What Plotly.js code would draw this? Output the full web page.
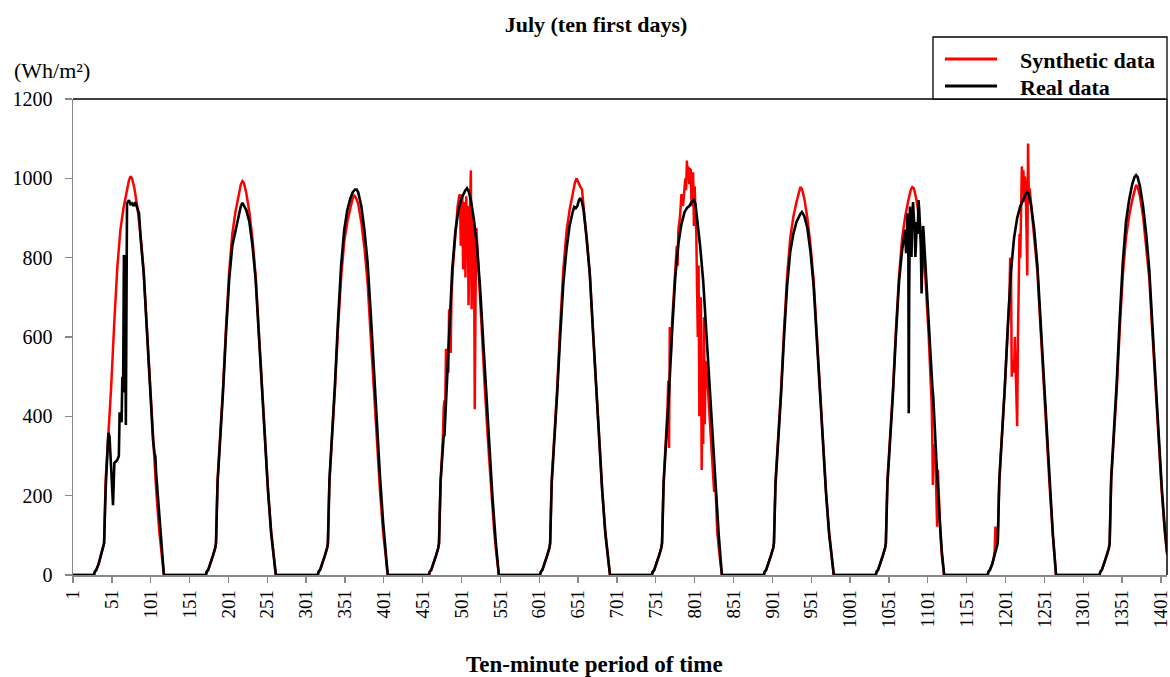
<!DOCTYPE html>
<html><head><meta charset="utf-8">
<script src="https://cdn.plot.ly/plotly-3.0.1.min.js"></script>
<style>html,body{margin:0;padding:0;background:#fff}#chart{width:1170px;height:677px}</style>
</head><body><div id="chart"></div>
<script>
// [ten-minute period, Wh/m2], day by day
const syn1 = [[1,0],[28,0],[29,8],[31,13],[34,28],[37,48],[40,68],[41,80],[43,240],[46,330],[50,470],[54,632],[58,775],[62,870],[66,925],[70,965],[73,995],[75,1005],[77,1000],[80,975],[84,925],[88,855],[92,765],[96,625],[100,478],[104,342],[108,216],[112,110],[115,50],[118,0]];
const real1 = [[1,0],[28,0],[29,8],[31,13],[34,28],[37,48],[40,68],[41,80],[43,215],[45,300],[46.5,358],[48,350],[50.3,252],[52.5,176],[54.2,282],[56,285],[58,290],[60,300],[61,410],[62,400],[63.5,385],[64.5,500],[65.5,460],[66.5,807],[68,790],[69,378],[70.5,937],[73,945],[75,935],[77,937],[79,930],[81,940],[84,925],[86,912],[88,850],[92,760],[96,620],[100,475],[104,340],[106,305],[107,300],[108,256],[113,130],[118,0]];

const syn2 = [[172,0],[173,8],[175,13],[178,28],[181,48],[184,68],[185,80],[187,240],[190,330],[194,470],[198,628],[202,765],[206,860],[210,915],[214,955],[217,985],[219,993],[221,988],[224,963],[228,915],[232,845],[236,755],[240,618],[244,473],[248,338],[252,214],[256,110],[259,50],[262,0]];
const real2 = [[172,0],[173,8],[175,13],[178,28],[181,48],[184,68],[185,80],[187,230],[190,320],[194,460],[198,612],[202,745],[206,830],[210,865],[214,905],[217,930],[219,938],[221,930],[224,920],[228,890],[232,830],[236,745],[240,610],[244,470],[248,335],[252,210],[256,105],[259,45],[262,0]];

const syn3 = [[316,0],[317,8],[319,13],[322,28],[325,48],[328,68],[329,80],[331,235],[334,325],[338,465],[342,620],[346,750],[350,840],[354,890],[358,925],[361,950],[363,956],[365,952],[368,935],[372,890],[376,825],[380,740],[384,605],[388,465],[390,395],[391,360],[392,340],[396,214],[400,110],[403,50],[406,0]];
const real3 = [[316,0],[317,8],[319,13],[322,28],[325,48],[328,68],[329,80],[331,240],[334,335],[338,478],[342,640],[346,780],[350,870],[354,920],[358,950],[361,965],[364,972],[366,972],[368,965],[372,930],[376,870],[380,790],[384,665],[388,520],[392,380],[396,250],[400,135],[403,65],[406,0]];

const syn4 = [[459,0],[460,8],[462,13],[465,28],[468,48],[471,68],[472,80],[474,235],[476,300],[477,345],[478,420],[479,440],[480,430],[481,570],[482,565],[483,520],[484,510],[485,670],[486,640],[487,560],[488,700],[490,780],[493,865],[496,930],[498,955],[499,960],[500,830],[501,920],[502,960],[503,770],[504,880],[505,940],[506,750],[507,955],[508,870],[509,930],[510,680],[511,900],[512,930],[513,1020],[514,670],[515,920],[516,860],[517,870],[518,418],[519,700],[520,875],[521,840],[523,760],[527,615],[531,470],[535,338],[539,214],[543,110],[546,50],[549,0]];
const real4 = [[459,0],[460,8],[462,13],[465,28],[468,48],[471,68],[472,80],[474,235],[476,300],[477,345],[478,350],[479,352],[481,440],[485,620],[489,770],[493,865],[497,920],[501,950],[504,965],[506,970],[508,975],[510,968],[513,945],[517,895],[521,825],[525,720],[529,585],[533,445],[537,315],[541,190],[545,85],[547,40],[549,0]];

const syn5 = [[602,0],[603,8],[605,13],[608,28],[611,48],[614,68],[615,80],[617,240],[620,330],[624,470],[628,630],[632,770],[636,865],[640,920],[644,960],[647,990],[649,1000],[651,990],[654,978],[656,972],[658,930],[662,852],[666,760],[670,620],[674,475],[678,340],[682,215],[686,110],[689,50],[692,0]];
const real5 = [[602,0],[603,8],[605,13],[608,28],[611,48],[614,68],[615,80],[617,230],[620,318],[624,455],[628,605],[632,735],[636,820],[640,880],[644,915],[646,928],[648,925],[650,930],[652,945],[654,950],[656,940],[658,920],[662,850],[666,760],[670,620],[674,475],[678,340],[682,212],[686,105],[689,45],[692,0]];

const syn6 = [[746,0],[747,8],[749,13],[752,28],[755,48],[758,68],[759,80],[761,235],[764,330],[766,420],[767,490],[768,320],[769,625],[770,540],[772,640],[776,775],[778,830],[779,780],[780,870],[782,900],[784,960],[786,930],[788,975],[789,1000],[790,970],[791,1045],[792,1000],[793,1030],[794,985],[795,1025],[796,1020],[797,930],[798,960],[799,1015],[800,880],[801,980],[802,920],[803,870],[805,600],[806,780],[807,400],[808,520],[809,700],[810,265],[811,420],[812,330],[813,650],[814,380],[815,540],[818,470],[822,340],[826,210],[828,215],[830,110],[833,50],[836,0]];
const real6 = [[746,0],[747,8],[749,13],[752,28],[755,48],[758,68],[759,80],[761,230],[764,320],[768,460],[772,615],[776,750],[780,835],[784,885],[788,915],[791,925],[794,930],[797,940],[800,945],[802,935],[804,900],[808,830],[812,740],[816,610],[820,470],[824,335],[828,210],[832,100],[834,50],[836,0]];

const syn7 = [[890,0],[891,8],[893,13],[896,28],[899,48],[902,68],[903,80],[905,238],[908,325],[912,462],[916,618],[920,755],[924,850],[928,903],[932,940],[935,968],[937,978],[939,973],[942,950],[946,900],[950,832],[954,745],[958,608],[962,465],[966,333],[970,210],[974,108],[977,48],[980,0]];
const real7 = [[890,0],[891,8],[893,13],[896,28],[899,48],[902,68],[903,80],[905,228],[908,315],[912,450],[916,600],[920,730],[924,815],[928,860],[932,890],[935,905],[937,910],[939,915],[942,905],[946,875],[950,815],[954,730],[958,598],[962,462],[966,330],[970,207],[974,103],[977,44],[980,0]];

const syn8 = [[1034,0],[1035,8],[1037,13],[1040,28],[1043,48],[1046,68],[1047,80],[1049,238],[1052,325],[1056,462],[1060,618],[1064,755],[1068,850],[1072,905],[1076,945],[1079,970],[1081,978],[1083,975],[1086,950],[1090,900],[1094,832],[1098,745],[1102,608],[1105,480],[1106,430],[1107,315],[1107.5,227],[1108,330],[1109,300],[1110,315],[1111,280],[1112,200],[1113,122],[1114,265],[1115,200],[1117,110],[1119,50],[1122,0]];
const real8 = [[1034,0],[1035,8],[1037,13],[1040,28],[1043,48],[1046,68],[1047,80],[1049,228],[1052,315],[1056,452],[1060,605],[1064,740],[1068,820],[1070,850],[1072,870],[1073,811],[1074,860],[1075,912],[1076,800],[1076.5,408],[1077,700],[1078,929],[1079,880],[1080,802],[1081,900],[1082,940],[1083,900],[1084,880],[1085,802],[1086,850],[1087,890],[1088,860],[1089,945],[1090,920],[1091,870],[1092,830],[1093,710],[1094,820],[1095,880],[1096,850],[1100,700],[1104,560],[1107,470],[1108,450],[1109,400],[1112,290],[1116,150],[1119,60],[1122,0]];

const syn9 = [[1178,0],[1179,8],[1181,13],[1184,28],[1186,45],[1187,60],[1188,122],[1189,75],[1190,80],[1191,85],[1193,240],[1196,330],[1200,470],[1204,620],[1206,700],[1207,800],[1208,790],[1209,500],[1210,540],[1211,530],[1212,510],[1213,600],[1214,520],[1215,470],[1216,375],[1217,600],[1218,770],[1219,860],[1220,800],[1221,960],[1222,1030],[1223,990],[1224,1020],[1225,940],[1226,1005],[1227,980],[1228,860],[1229,755],[1230,1088],[1231,950],[1232,975],[1234,930],[1238,860],[1242,765],[1246,625],[1250,478],[1254,342],[1258,216],[1262,100],[1264,50],[1266,0]];
const real9 = [[1178,0],[1179,8],[1181,13],[1184,28],[1187,48],[1190,68],[1191,80],[1193,238],[1196,330],[1200,470],[1204,630],[1208,765],[1212,850],[1216,900],[1220,930],[1223,945],[1225,952],[1227,960],[1229,966],[1231,960],[1234,930],[1238,870],[1242,780],[1246,640],[1250,490],[1254,350],[1258,220],[1262,100],[1264,50],[1266,0]];

const syn10 = [[1322,0],[1323,8],[1325,13],[1328,28],[1331,48],[1334,68],[1335,80],[1337,238],[1340,325],[1344,462],[1348,620],[1352,757],[1356,850],[1360,905],[1364,945],[1367,973],[1369,983],[1371,978],[1374,955],[1378,905],[1382,835],[1386,748],[1390,610],[1394,467],[1398,334],[1402,211],[1406,108],[1409,50]];
const real10 = [[1322,0],[1323,8],[1325,13],[1328,28],[1331,48],[1334,68],[1335,80],[1337,245],[1340,340],[1344,482],[1348,648],[1352,790],[1356,890],[1360,945],[1364,985],[1367,1003],[1369,1008],[1371,1003],[1374,980],[1378,930],[1382,860],[1386,770],[1390,630],[1394,485],[1398,350],[1402,222],[1406,115],[1409,55]];

const xTicks = [1,51,101,151,201,251,301,351,401,451,501,551,601,651,701,751,801,851,901,951,1001,1051,1101,1151,1201,1251,1301,1351,1401];
const yTicks = [0,200,400,600,800,1000,1200];
const seriesNames = ['Synthetic data', 'Real data'];
const seriesColors = ['#ff0000', '#000000'];

const synDays = [syn1,syn2,syn3,syn4,syn5,syn6,syn7,syn8,syn9,syn10];
const realDays = [real1,real2,real3,real4,real5,real6,real7,real8,real9,real10];

function toXY(days){
  const x = [], y = [];
  days.forEach(d => d.forEach(p => { x.push(p[0]); y.push(p[1]); }));
  return {x, y};
}
const S = toXY(synDays), R = toXY(realDays);

const FONT = '"Liberation Serif", "Times New Roman", serif';

const traces = [
  {type:'scatter', mode:'lines', name:seriesNames[0], x:S.x, y:S.y,
   line:{color:seriesColors[0], width:2.5}},
  {type:'scatter', mode:'lines', name:seriesNames[1], x:R.x, y:R.y,
   line:{color:seriesColors[1], width:2.6}}
];

// plot area: 73..1167 px wide, 99..575 px high -> paper helpers for the legend box
const W = 1094, H = 476;
const px = v => (v - 73) / W;
const py = v => (575 - v) / H;

const layout = {
  width:1170, height:677,
  margin:{l:73, r:3, t:99, b:102},
  paper_bgcolor:'#ffffff', plot_bgcolor:'#ffffff',
  font:{family:FONT, size:19, color:'#000'},
  showlegend:false,
  title:{text:'July (ten first days)', font:{family:FONT, size:22, weight:'bold', color:'#000'},
         xref:'container', x:596/1170, xanchor:'center', yref:'container', y:1-24/677, yanchor:'middle'},
  xaxis:{range:[1,1408.8], tickmode:'array', tickvals:xTicks, ticktext:xTicks.map(String),
         tickangle:-90, ticks:'outside', ticklen:6, tickcolor:'#888', tickwidth:1.3,
         ticklabeloverflow:'allow',
         showline:true, linecolor:'#888', linewidth:1.5, showgrid:false, zeroline:false,
         tickfont:{family:FONT, size:19, color:'#000'}, automargin:false},
  yaxis:{range:[0,1200], tickmode:'array', tickvals:yTicks, ticktext:yTicks.map(String),
         ticks:'outside', ticklen:7, tickcolor:'#888', tickwidth:1.3, ticklabelstandoff:8,
         showline:true, linecolor:'#888', linewidth:1.5, showgrid:false, zeroline:false,
         tickfont:{family:FONT, size:20, color:'#000'}, automargin:false},
  shapes:[
    {type:'line', xref:'paper', yref:'paper', x0:0, x1:1, y0:1, y1:1, line:{color:'#000', width:1.5}},
    {type:'line', xref:'paper', yref:'paper', x0:1, x1:1, y0:0, y1:1, line:{color:'#000', width:1.5}},
    // legend box and keys
    {type:'rect', xref:'paper', yref:'paper', x0:px(933), x1:px(1167), y0:py(99), y1:py(37),
     fillcolor:'#fff', line:{color:'#000', width:1.3}, layer:'above'},
    {type:'line', xref:'paper', yref:'paper', x0:px(945), x1:px(997), y0:py(59), y1:py(59),
     line:{color:seriesColors[0], width:3}, layer:'above'},
    {type:'line', xref:'paper', yref:'paper', x0:px(945), x1:px(997), y0:py(86), y1:py(86),
     line:{color:seriesColors[1], width:3}, layer:'above'}
  ],
  annotations:[
    {text:'(Wh/m²)', xref:'paper', yref:'paper', x:px(12), xanchor:'left',
     y:py(70), yanchor:'middle', showarrow:false, font:{family:FONT, size:22, color:'#000'}},
    {text:'Ten-minute period of time', xref:'paper', yref:'paper', x:px(594), xanchor:'center',
     y:py(664), yanchor:'middle', showarrow:false, font:{family:FONT, size:23, weight:'bold', color:'#000'}},
    {text:seriesNames[0], xref:'paper', yref:'paper', x:px(1018), xanchor:'left',
     y:py(60), yanchor:'middle', showarrow:false, font:{family:FONT, size:22, weight:'bold', color:'#000'}},
    {text:seriesNames[1], xref:'paper', yref:'paper', x:px(1018), xanchor:'left',
     y:py(87), yanchor:'middle', showarrow:false, font:{family:FONT, size:22, weight:'bold', color:'#000'}}
  ]
};

Plotly.newPlot('chart', traces, layout, {displayModeBar:false, staticPlot:true});
</script>
</body></html>
